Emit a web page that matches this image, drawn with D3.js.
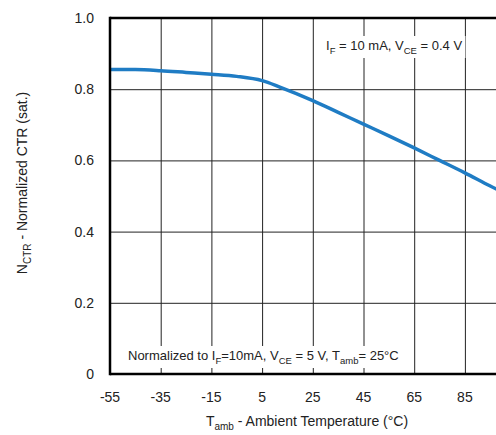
<!DOCTYPE html>
<html>
<head>
<meta charset="utf-8">
<script src="https://cdn.jsdelivr.net/npm/d3@7"></script>
<style>
  body { margin: 0; background: #fff; }
  text { font-family: "Liberation Sans", Arial, sans-serif; fill: #222; }
</style>
</head>
<body>
<div id="chart"></div>
<script>
var temps = [-55, -45, -35, -25, -15, -5, 5, 12, 25, 35, 45, 55, 65, 75, 85, 95, 105];
var ctr = [0.855, 0.855, 0.852, 0.847, 0.842, 0.836, 0.824, 0.806, 0.768, 0.735, 0.702, 0.669, 0.635, 0.600, 0.565, 0.528, 0.494];
var xTicks = [-55, -35, -15, 5, 25, 45, 65, 85];
var yTicks = [0, 0.2, 0.4, 0.6, 0.8, 1.0];
var yTickLabels = ["0", "0.2", "0.4", "0.6", "0.8", "1.0"];

var W = 496, H = 435;
var margin = {left: 110, top: 18, bottom: 61};
var plotRight = 110 + 8 * 50.7;

var svg = d3.select("#chart").append("svg")
  .attr("width", W)
  .attr("height", H);

var xs = d3.scaleLinear().domain([-55, 105]).range([margin.left, plotRight]);
var ys = d3.scaleLinear().domain([0, 1]).range([H - margin.bottom, margin.top]);

// annotation boxes (white background cutting the grid)
function note(xp, yp, parts) {
  var g = svg.append("g");
  var bg = g.append("rect").attr("fill", "#fff");
  var t = g.append("text").attr("x", xp).attr("y", yp).style("font-size", "13px");
  parts.forEach(function(p) {
    var ts = t.append("tspan").text(p[0]);
    if (p[1] === "sub") ts.attr("dy", 4).style("font-size", "9.5px");
    if (p[1] === "back") ts.attr("dy", -4);
  });
  var b = t.node().getBBox();
  bg.attr("x", b.x - 3).attr("y", b.y - 2).attr("width", b.width + 6).attr("height", b.height + 4);
  return g;
}

var n1 = note(326, 50, [["I"], ["F", "sub"], [" = 10 mA, V", "back"], ["CE", "sub"], [" = 0.4  V", "back"]]);
var n2 = note(128, 360, [["Normalized to I"], ["F", "sub"], ["=10mA, V", "back"], ["CE", "sub"], [" = 5 V, T", "back"], ["amb", "sub"], ["= 25°C", "back"]]);

// grid via d3 axes with full-length ticks
var gx = svg.append("g")
  .attr("transform", "translate(0," + ys(0) + ")")
  .call(d3.axisBottom(xs).tickValues(xTicks.slice(1)).tickSize(-(ys(0) - ys(1))).tickFormat(""));
var gy = svg.append("g")
  .attr("transform", "translate(" + xs(-55) + ",0)")
  .call(d3.axisLeft(ys).tickValues(yTicks.slice(1, 5)).tickSize(-(xs(105) - xs(-55))).tickFormat(""));
gx.select(".domain").remove();
gy.select(".domain").remove();
svg.selectAll(".tick line").attr("stroke", "#222").attr("stroke-width", 1);

n1.raise();
n2.raise();

// curve
var curveGen = d3.line()
  .x(function(d, i) { return xs(temps[i]); })
  .y(function(d) { return ys(d); })
  .curve(d3.curveMonotoneX);

svg.append("path")
  .datum(ctr)
  .attr("d", curveGen)
  .attr("fill", "none")
  .attr("stroke", "#1f7cc4")
  .attr("stroke-width", 3.5);

// frame
svg.append("line").attr("x1", xs(-55)).attr("x2", xs(105)).attr("y1", ys(1)).attr("y2", ys(1))
  .attr("stroke", "#000").attr("stroke-width", 2.5);
svg.append("line").attr("x1", xs(-55)).attr("x2", xs(105)).attr("y1", ys(0)).attr("y2", ys(0))
  .attr("stroke", "#000").attr("stroke-width", 2.5);
svg.append("line").attr("x1", xs(-55)).attr("x2", xs(-55)).attr("y1", ys(0) + 1.25).attr("y2", ys(1) - 1.25)
  .attr("stroke", "#000").attr("stroke-width", 2.5);

// tick labels
svg.append("g").selectAll("text")
  .data(xTicks)
  .enter().append("text")
  .attr("x", function(d) { return xs(d); })
  .attr("y", 402)
  .attr("text-anchor", "middle")
  .style("font-size", "14px")
  .text(function(d) { return d; });

svg.append("g").selectAll("text")
  .data(yTicks)
  .enter().append("text")
  .attr("x", 94)
  .attr("y", function(d) { return ys(d) + 5; })
  .attr("text-anchor", "end")
  .style("font-size", "14px")
  .text(function(d, i) { return yTickLabels[i]; });

// axis titles
var xt = svg.append("text")
  .attr("x", 307).attr("y", 426)
  .attr("text-anchor", "middle")
  .style("font-size", "14px");
xt.append("tspan").text("T");
xt.append("tspan").text("amb").attr("dy", 4).style("font-size", "10px");
xt.append("tspan").text(" - Ambient Temperature (°C)").attr("dy", -4);

var yt = svg.append("text")
  .attr("transform", "translate(27,183) rotate(-90)")
  .attr("text-anchor", "middle")
  .style("font-size", "14px");
yt.append("tspan").text("N");
yt.append("tspan").text("CTR").attr("dy", 4).style("font-size", "10px");
yt.append("tspan").text(" - Normalized CTR (sat.)").attr("dy", -4);
</script>
</body>
</html>
